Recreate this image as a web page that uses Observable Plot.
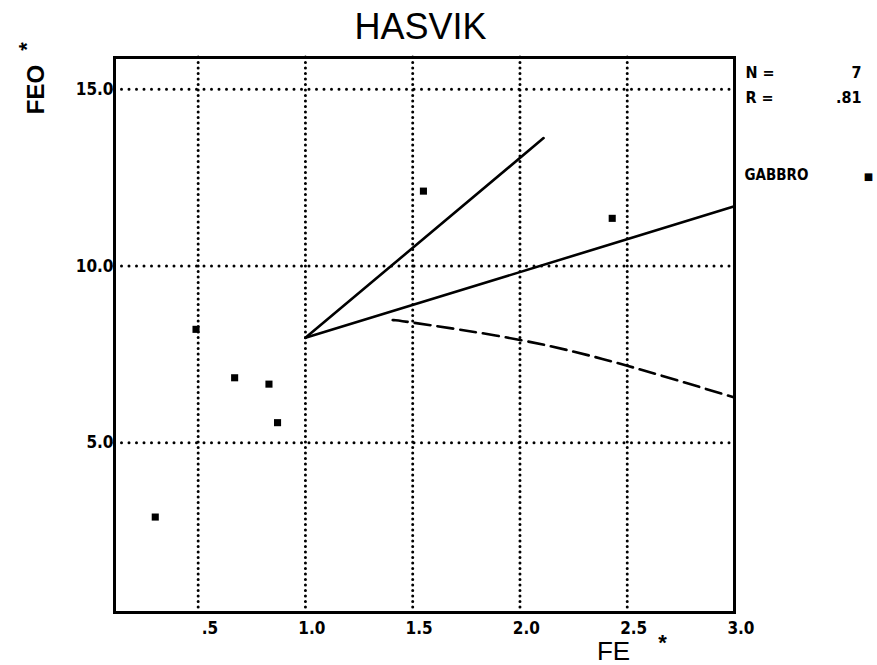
<!DOCTYPE html>
<html>
<head>
<meta charset="utf-8">
<script src="https://cdn.jsdelivr.net/npm/d3@7"></script>
<script src="https://cdn.jsdelivr.net/npm/@observablehq/plot@0.6"></script>
<style>
  html, body { margin: 0; padding: 0; background: #fff; overflow: hidden; }
  #chart svg { display: block; }
</style>
</head>
<body>
<div id="chart"></div>
<script>
// ---- data ----
const title = "HASVIK";
const gabbroX = [0.30, 0.49, 0.67, 0.83, 0.87, 1.55, 2.43];
const gabbroY = [2.9, 8.21, 6.84, 6.66, 5.57, 12.12, 11.35];

const steepLineX = [1.0, 2.11];
const steepLineY = [7.97, 13.62];
const flatLineX = [1.0, 3.0];
const flatLineY = [7.97, 11.69];
const dashedLineX = [1.41, 1.5, 2.0, 2.5, 3.0];
const dashedLineY = [8.47, 8.40, 7.91, 7.18, 6.28];

const xTickValues = [0.5, 1.0, 1.5, 2.0, 2.5, 3.0];
const xTickLabels = [".5", "1.0", "1.5", "2.0", "2.5", "3.0"];
const yTickValues = [5, 10, 15];
const yTickLabels = ["5.0", "10.0", "15.0"];
const xGridValues = [0.5, 1.0, 1.5, 2.0, 2.5];
const yGridValues = [5, 10, 15];

const nLabel = "N =";
const nValue = "7";
const rLabel = "R =";
const rValue = ".81";
const legendLabel = "GABBRO";

// ---- build tables ----
const points = gabbroX.map((x, i) => ({x, y: gabbroY[i]}));
const toRows = (xs, ys) => xs.map((x, i) => ({x, y: ys[i]}));
const steep = toRows(steepLineX, steepLineY);
const flat = toRows(flatLineX, flatLineY);
const dashed = toRows(dashedLineX, dashedLineY);
const xTicks = xTickValues.map((v, i) => ({v, label: xTickLabels[i]}));
const yTicks = yTickValues.map((v, i) => ({v, label: yTickLabels[i]}));

const tickFont = "'Liberation Sans Narrow', 'DejaVu Sans Condensed', 'Liberation Sans', sans-serif";
const sans = "'Liberation Sans', sans-serif";
const ann = {lineAnchor: "middle", fontWeight: "bold", fontFamily: tickFont};

const chart = Plot.plot({
  width: 877,
  height: 665,
  marginLeft: 114,
  marginRight: 143,
  marginTop: 57,
  marginBottom: 53,
  x: {domain: [0.11, 3.0], axis: null},
  y: {domain: [0.2, 15.9], axis: null},
  style: {background: "#fff", color: "#000", overflow: "visible"},
  marks: [
    Plot.ruleX(xGridValues, {x: d => d, stroke: "#000", strokeWidth: 3, strokeDasharray: "0,5.5", strokeLinecap: "round"}),
    Plot.ruleY(yGridValues, {y: d => d, stroke: "#000", strokeWidth: 3, strokeDasharray: "0,7.5", strokeLinecap: "round"}),
    Plot.line(steep, {x: "x", y: "y", stroke: "#000", strokeWidth: 2.6}),
    Plot.line(flat, {x: "x", y: "y", stroke: "#000", strokeWidth: 2.6}),
    Plot.line(dashed, {x: "x", y: "y", stroke: "#000", strokeWidth: 2.6, strokeDasharray: "16,7", curve: "natural"}),
    Plot.dot(points, {x: "x", y: "y", symbol: "square", r: 4, fill: "#000", stroke: "none"}),
    Plot.frame({stroke: "#000", strokeWidth: 3}),
    // tick labels
    Plot.text(xTicks, {x: "v", text: "label", frameAnchor: "bottom", dy: 16, dx: 20, textAnchor: "end",
      fontSize: 17, ...ann}),
    Plot.text(yTicks, {y: "v", text: "label", frameAnchor: "left", dx: -1, textAnchor: "end",
      fontSize: 17, ...ann}),
    // title
    Plot.text([title], {frameAnchor: "top", dy: -30, dx: -4, lineAnchor: "middle", textAnchor: "middle", fontSize: 36,
      fontWeight: "normal", fontFamily: sans, letterSpacing: "1px"}),
    // axis labels
    Plot.text(["FE"], {frameAnchor: "bottom", dx: 189, dy: 39, lineAnchor: "middle", textAnchor: "middle", fontSize: 26, fontFamily: sans}),
    Plot.text(["*"], {frameAnchor: "bottom", dx: 238, dy: 30, lineAnchor: "middle", textAnchor: "middle", fontSize: 22, fontWeight: "bold", fontFamily: sans}),
    Plot.text(["FEO"], {frameAnchor: "top-left", dx: -78, dy: 32, rotate: -90, lineAnchor: "middle", textAnchor: "middle",
      fontSize: 24, fontWeight: "bold", fontFamily: sans}),
    Plot.text(["*"], {frameAnchor: "top-left", dx: -88, dy: -11, rotate: -90, lineAnchor: "middle", textAnchor: "middle",
      fontSize: 22, fontWeight: "bold", fontFamily: sans}),
    // statistics and legend
    Plot.text([nLabel], {frameAnchor: "top-right", dx: 11, dy: 15, textAnchor: "start", fontSize: 16, ...ann}),
    Plot.text([nValue], {frameAnchor: "top-right", dx: 127, dy: 15, textAnchor: "end", fontSize: 16, ...ann}),
    Plot.text([rLabel], {frameAnchor: "top-right", dx: 11, dy: 40, textAnchor: "start", fontSize: 16, ...ann}),
    Plot.text([rValue], {frameAnchor: "top-right", dx: 127, dy: 40, textAnchor: "end", fontSize: 16, ...ann}),
    Plot.text([legendLabel], {frameAnchor: "top-right", dx: 10, dy: 118, textAnchor: "start",
      fontSize: 15, ...ann, letterSpacing: "-0.5px"}),
    Plot.text(["\u25A0"], {frameAnchor: "top-right", dx: 134, dy: 119, lineAnchor: "middle", textAnchor: "middle", fontSize: 10,
      fontFamily: "'DejaVu Sans', sans-serif"})
  ]
});

document.getElementById("chart").appendChild(chart);
</script>
</body>
</html>
